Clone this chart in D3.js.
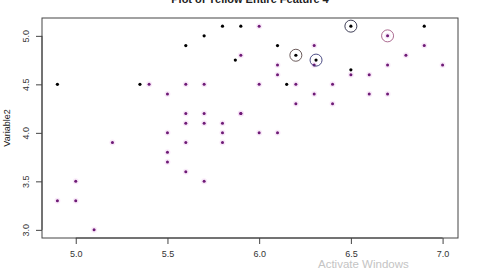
<!DOCTYPE html>
<meta charset="utf-8">

<!-- Load d3.js -->
<script src="https://d3js.org/d3.v7.min.js"></script>

<style>
  body { margin: 0; background: #fff; }
  text { font-family: "Liberation Sans", Arial, sans-serif; }
</style>

<!-- Create a div where the graph will take place -->
<div id="my_dataviz"></div>

<script>

// purple points (Variable1, Variable2)
var purpleX = [5.4, 5.6, 5.7, 5.5, 5.9, 5.6, 5.7, 5.9, 5.6, 5.7, 5.8,
               5.5, 5.8, 5.6, 5.8, 5.2, 5.5, 5.5, 5.6, 5.7, 5.0, 4.9, 5.0, 5.1,
               6.0, 6.7, 6.3, 6.9, 6.8, 6.3, 6.1, 6.7, 7.0, 6.5, 6.1, 6.6,
               6.0, 6.2, 6.4, 6.3, 6.6, 6.7, 6.2, 6.4, 5.9, 6.0, 6.1]
var purpleY = [4.5, 4.5, 4.5, 4.4, 4.8, 4.2, 4.2, 4.2, 4.1, 4.1, 4.1,
               4.0, 4.0, 3.9, 3.9, 3.9, 3.8, 3.7, 3.6, 3.5, 3.5, 3.3, 3.3, 3.0,
               5.1, 5.0, 4.9, 4.9, 4.8, 4.7, 4.7, 4.7, 4.7, 4.6, 4.6, 4.6,
               4.5, 4.5, 4.5, 4.4, 4.4, 4.4, 4.3, 4.3, 4.2, 4.0, 4.0]

// black points
var blackX = [4.9, 5.35, 5.6, 5.7, 5.8, 5.9, 5.87, 6.1, 6.2, 6.5, 6.9, 6.31, 6.5, 6.15]
var blackY = [4.5, 4.5, 4.9, 5.0, 5.1, 5.1, 4.75, 4.9, 4.8, 5.1, 5.1, 4.75, 4.65, 4.5]

// highlighted points (open rings)
var ringX = [6.5, 6.7, 6.2, 6.31]
var ringY = [5.1, 5.0, 4.8, 4.75]
var ringColor = ["#2a2a45", "#a35a85", "#5a4848", "#3a3a78"]

var xTicks = [5.0, 5.5, 6.0, 6.5, 7.0]
var yTicks = [3.0, 3.5, 4.0, 4.5, 5.0]

var width = 480,
    height = 270

var svg = d3.select("#my_dataviz")
  .append("svg")
    .attr("width", width)
    .attr("height", height)

// R style axis range: data range plus 4% each side
var x = d3.scaleLinear().domain([4.816, 7.084]).range([42, 458])
var y = d3.scaleLinear().domain([2.916, 5.184]).range([238, 18])

// title, mostly cut off at the top of the picture (as in the screenshot)
svg.append("text")
  .attr("x", 250)
  .attr("y", 3)
  .attr("text-anchor", "middle")
  .style("font-size", "11px")
  .style("font-weight", "bold")
  .style("fill", "#222")
  .text("Plot of Yellow Entire Feature 4")

// box round the plot
svg.append("rect")
  .attr("x", 42)
  .attr("y", 18)
  .attr("width", 416)
  .attr("height", 220)
  .attr("fill", "none")
  .attr("stroke", "#444")
  .attr("stroke-width", 1)

// x axis
var xAxis = svg.append("g")
  .attr("transform", "translate(0,238)")
  .call(d3.axisBottom(x).tickValues(xTicks).tickFormat(d3.format(".1f")).tickSize(6).tickPadding(7))
xAxis.select(".domain").attr("d", "M" + x(5) + ",0H" + x(7)).attr("stroke", "#444")
xAxis.selectAll(".tick line").attr("stroke", "#444")
xAxis.selectAll("text").style("font-size", "9px").style("fill", "#333")

// y axis, labels parallel to the axis like R
var yAxis = svg.append("g")
  .attr("transform", "translate(42,0)")
  .call(d3.axisLeft(y).tickValues(yTicks).tickFormat(d3.format(".1f")).tickSize(6))
yAxis.select(".domain").attr("d", "M0," + y(3) + "V" + y(5)).attr("stroke", "#444")
yAxis.selectAll(".tick line").attr("stroke", "#444")
yAxis.selectAll("text")
  .attr("x", 0).attr("y", 0).attr("dy", null)
  .attr("transform", "translate(-13,0) rotate(-90)")
  .attr("text-anchor", "middle")
  .style("font-size", "9px")
  .style("fill", "#333")

svg.append("text")
  .attr("transform", "translate(10,128) rotate(-90)")
  .attr("text-anchor", "middle")
  .style("font-size", "9px")
  .style("fill", "#222")
  .text("Variable2")

// purple dots with a faint halo
svg.selectAll(".halo")
  .data(d3.range(purpleX.length))
  .enter()
  .append("circle")
    .attr("cx", function(i){ return x(purpleX[i]) })
    .attr("cy", function(i){ return y(purpleY[i]) })
    .attr("r", 3)
    .attr("fill", "#f2d0f2")
    .attr("opacity", 0.45)

svg.selectAll(".pdot")
  .data(d3.range(purpleX.length))
  .enter()
  .append("circle")
    .attr("cx", function(i){ return x(purpleX[i]) })
    .attr("cy", function(i){ return y(purpleY[i]) })
    .attr("r", 1.5)
    .attr("fill", "#6e1a76")

svg.selectAll(".bdot")
  .data(d3.range(blackX.length))
  .enter()
  .append("circle")
    .attr("cx", function(i){ return x(blackX[i]) })
    .attr("cy", function(i){ return y(blackY[i]) })
    .attr("r", 1.6)
    .attr("fill", "#000")

svg.selectAll(".ring")
  .data(d3.range(ringX.length))
  .enter()
  .append("circle")
    .attr("cx", function(i){ return x(ringX[i]) })
    .attr("cy", function(i){ return y(ringY[i]) })
    .attr("r", 6)
    .attr("fill", "none")
    .attr("stroke", function(i){ return ringColor[i] })
    .attr("stroke-width", 0.9)

// watermark from the screenshot
svg.append("text")
  .attr("x", 318)
  .attr("y", 268)
  .style("font-size", "11.5px")
  .style("fill", "#c4c4c4")
  .text("Activate Windows")

</script>
